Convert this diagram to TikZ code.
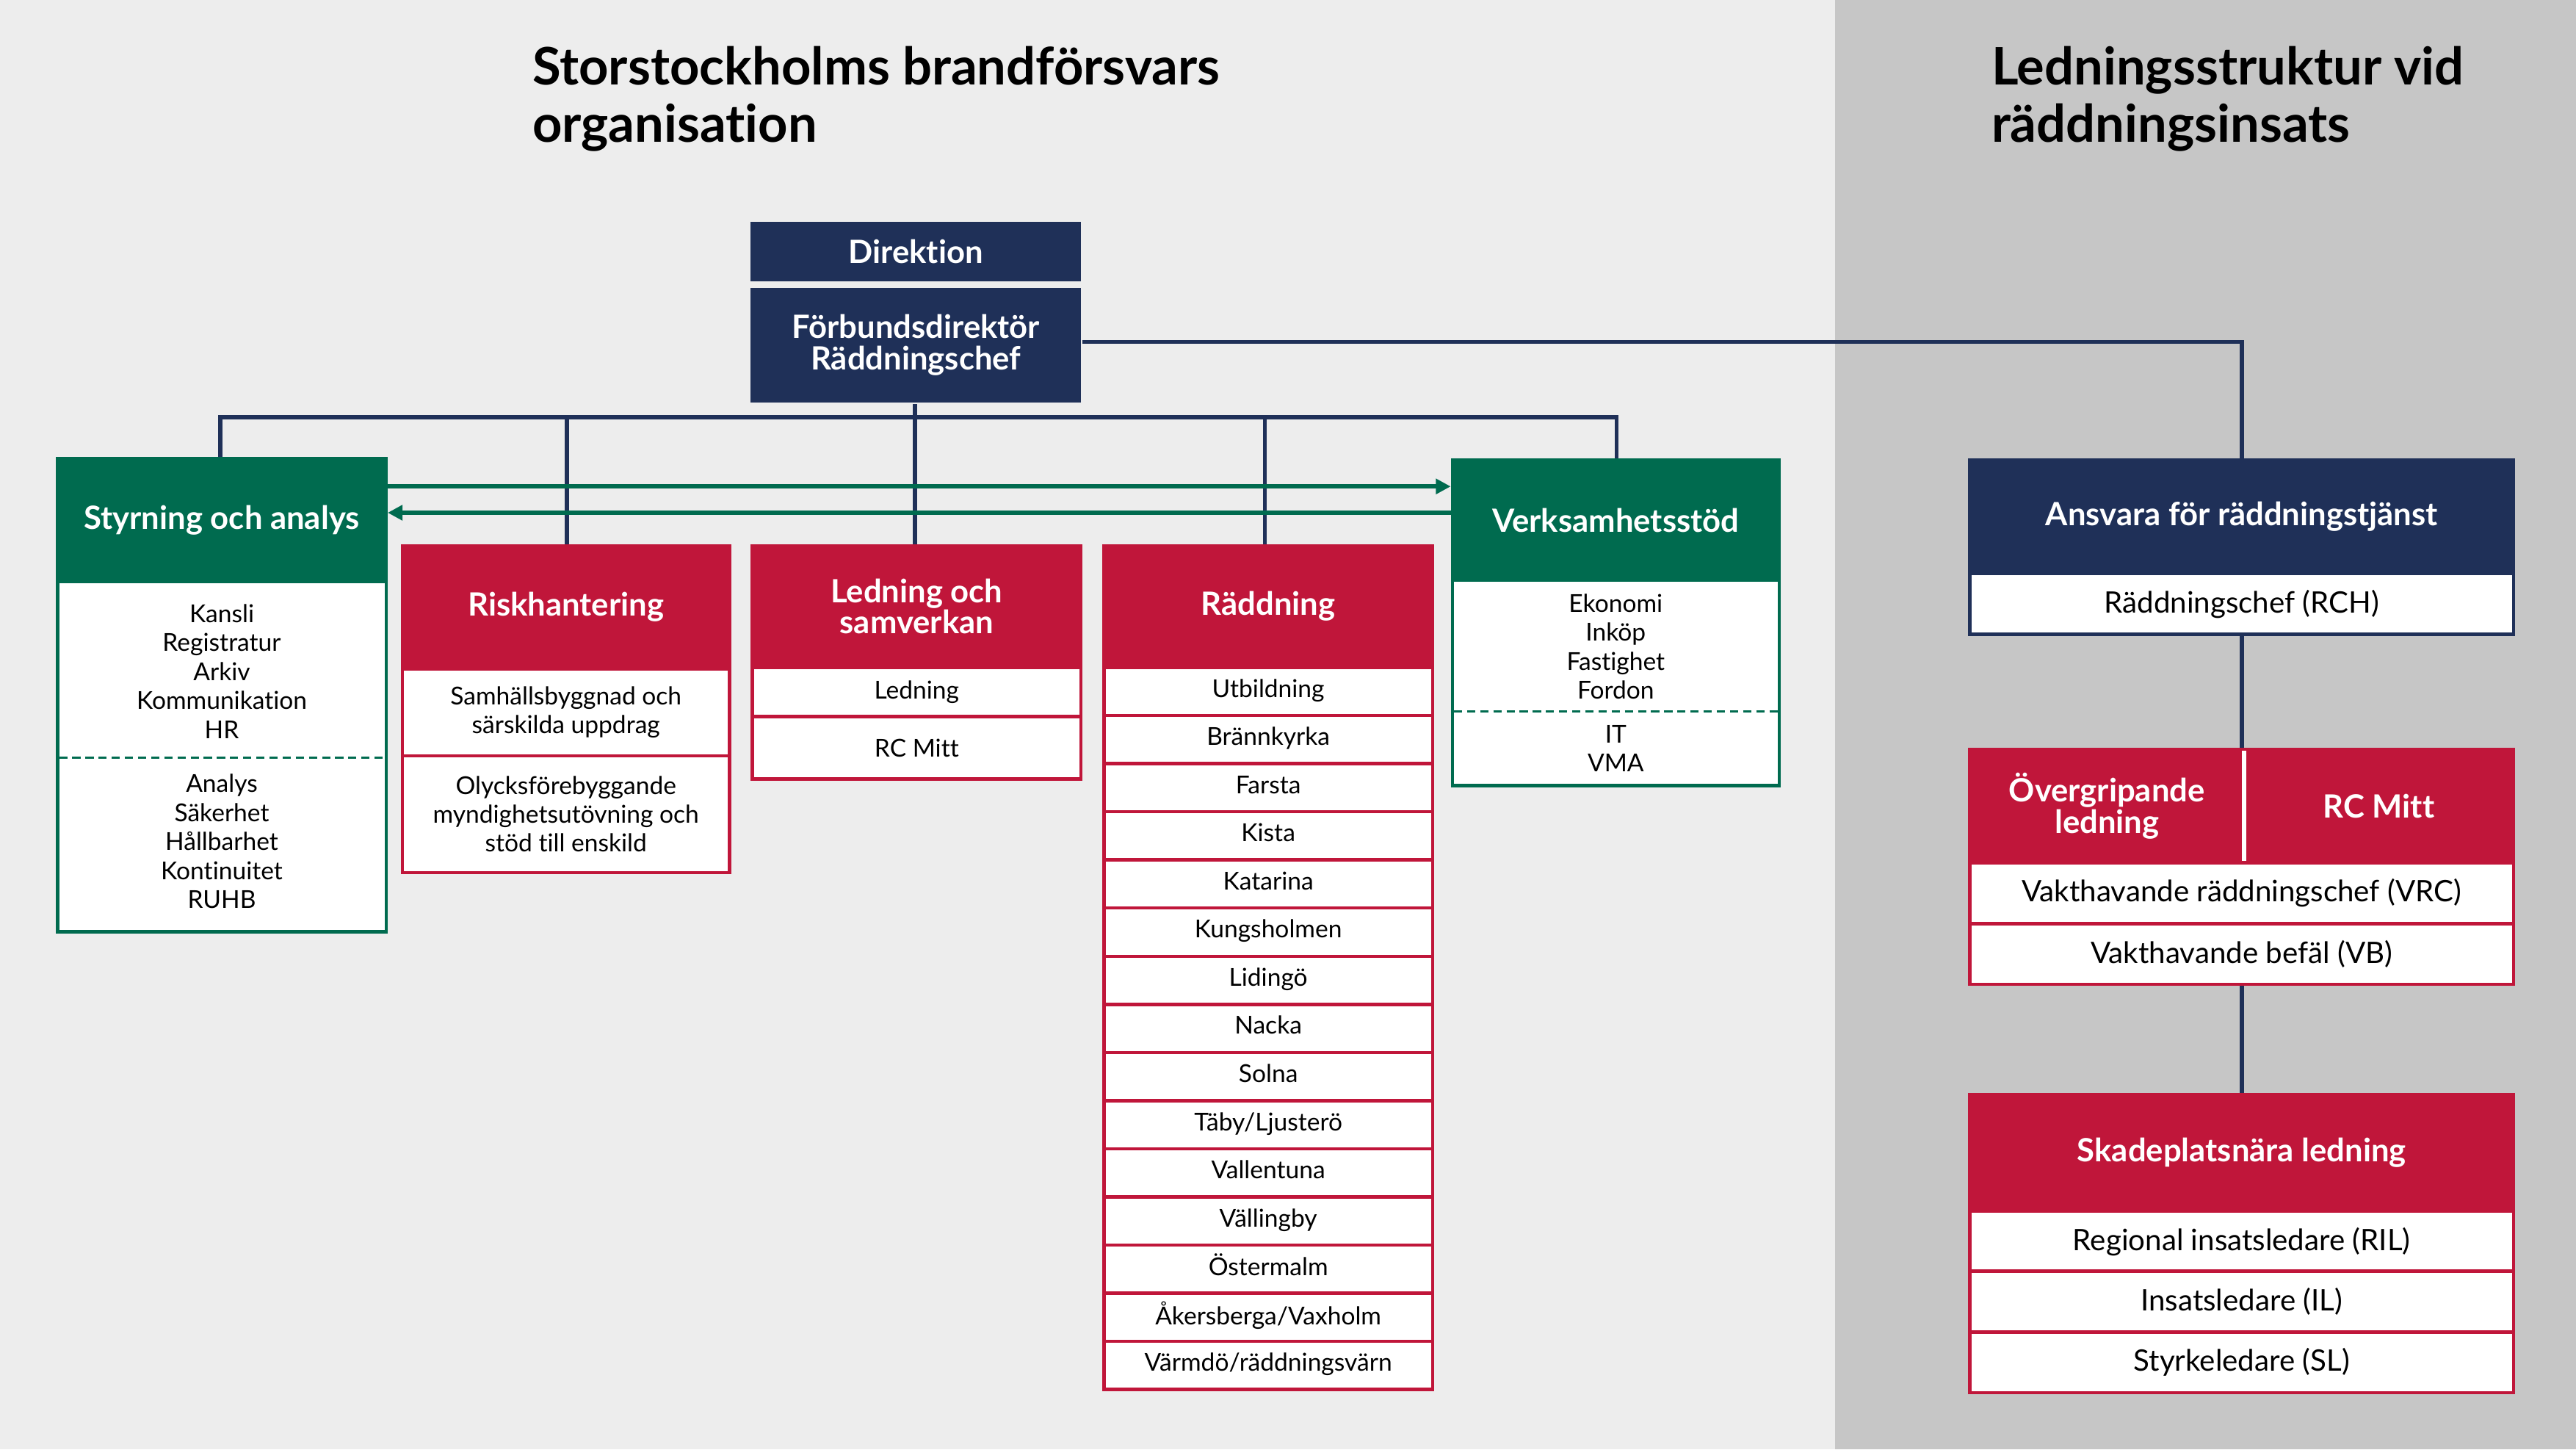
\documentclass[tikz,border=0pt]{standalone}
\usepackage{fontspec}
\setmainfont{Lato}[Ligatures={NoCommon}]
\usetikzlibrary{arrows.meta}
\definecolor{navy}{HTML}{1F3058}
\definecolor{grn}{HTML}{006B4F}
\definecolor{crim}{HTML}{C0163A}
\definecolor{bgl}{HTML}{EDEDED}
\definecolor{bgr}{HTML}{C6C6C6}
\tikzset{x=1pt,y=-1pt,
 hd/.style={rectangle,inner sep=0pt,align=center,text=white,font=\fontsize{19.5}{19}\selectfont\bfseries,line width=2pt},
 cell/.style={rectangle,inner sep=0pt,align=center,fill=white,line width=2pt,font=\fontsize{15}{17.5}\selectfont},
 rcell/.style={cell,draw=crim},
 gcell/.style={cell,draw=grn},
 ncell/.style={cell,draw=navy,font=\fontsize{18}{20}\selectfont},
 rrcell/.style={cell,draw=crim,font=\fontsize{18}{20}\selectfont},
 conn/.style={navy,line width=2.5pt},
 garr/.style={grn,line width=2.5pt,-{Triangle[length=9pt,width=9pt]}},
 ttl/.style={anchor=north west,align=left,inner sep=0pt,font=\fontsize{31.5}{35}\selectfont\bfseries}}
\begin{document}
\begin{tikzpicture}
\fill[bgl] (0,0) rectangle (1117,882);
\fill[bgr] (1117,0) rectangle (1568,882);
\useasboundingbox (0,0) rectangle (1568,882);
\node[ttl] (t1) at (324,28) {Storstockholms brandförsvars\\organisation};
\node[ttl] (t2) at (1212,28) {Ledningsstruktur vid\\räddningsinsats};
% top
\node[hd,fill=navy,minimum width=201,minimum height=36] (dir) at (557.5,153) {Direktion};
\node[hd,fill=navy,minimum width=201,minimum height=70] (fd) at (557.5,210) {Förbundsdirektör\\Räddningschef};
% Styrning
\node[gcell,draw=grn,minimum width=200,minimum height=213] (sab) at (135,460.5) {};
\node[hd,fill=grn,draw=grn,minimum width=200,minimum height=75] (sa) at (135,316.5) {Styrning och analys};
\draw[grn,line width=1.5pt,dash pattern=on 5pt off 3pt] (36,461) -- (234,461);
\node[font=\fontsize{15}{17.6}\selectfont,align=center] (sa1) at (135,408.5) {Kansli\\Registratur\\Arkiv\\Kommunikation\\HR};
\node[font=\fontsize{15}{17.6}\selectfont,align=center] (sa2) at (135,512) {Analys\\Säkerhet\\Hållbarhet\\Kontinuitet\\RUHB};
% Verksamhetsstod
\node[gcell,minimum width=199,minimum height=125] (vsb) at (983.5,415.5) {};
\node[hd,fill=grn,draw=grn,minimum width=199,minimum height=73] (vs) at (983.5,316.5) {Verksamhetsstöd};
\draw[grn,line width=1.5pt,dash pattern=on 5pt off 3pt] (885,433) -- (1082,433);
\node[font=\fontsize{15}{17.6}\selectfont,align=center] (vs1) at (983.5,393.5) {Ekonomi\\Inköp\\Fastighet\\Fordon};
\node[font=\fontsize{15}{17.6}\selectfont,align=center] (vs2) at (983.5,455.5) {IT\\VMA};
% Riskhantering
\node[hd,fill=crim,draw=crim,minimum width=199,minimum height=75] (rh) at (344.5,369.5) {Riskhantering};
\node[rcell,minimum width=199,minimum height=53] (rh1) at (344.5,433.5) {Samhällsbyggnad och\\särskilda uppdrag};
\node[rcell,minimum width=199,minimum height=71] (rh2) at (344.5,495.5) {Olycksförebyggande\\myndighetsutövning och\\stöd till enskild};
% Ledning och samverkan
\node[hd,fill=crim,draw=crim,minimum width=200,minimum height=74,font=\fontsize{19.5}{18}\selectfont\bfseries] (ls) at (558,369) {Ledning och\\samverkan};
\node[rcell,minimum width=200,minimum height=30] (ls1) at (558,421) {Ledning};
\node[rcell,minimum width=200,minimum height=38] (ls2) at (558,455) {RC Mitt};
% Raddning
\node[hd,fill=crim,draw=crim,minimum width=200,minimum height=74] (rd) at (772,369) {Räddning};
\foreach \t [count=\i from 0] in {Utbildning,Brännkyrka,Farsta,Kista,Katarina,Kungsholmen,Lidingö,Nacka,Solna,Täby/Ljusterö,Vallentuna,Vällingby,Östermalm,Åkersberga/Vaxholm,Värmdö/räddningsvärn}
  \node[rcell,minimum width=200,minimum height=29.3] (rd\i) at (772,{420.7+29.3*\i}) {\strut\t};
% connectors
\coordinate (b1) at (134,254); \coordinate (b5) at (984,254);
\coordinate (b2) at (345,254); \coordinate (b3) at (557,254); \coordinate (b4) at (770,254);
\draw[conn] (sa.north -| b1) -- (b1) -- (b5) -- (vs.north -| b5);
\draw[conn] (b2) -- (rh.north -| b2);
\draw[conn] (fd.south -| b3) -- (ls.north -| b3);
\draw[conn] (b4) -- (rd.north -| b4);
\draw[garr] (sa.east |- 0,296) -- (vs.west |- 0,296);
\draw[garr] (vs.west |- 0,312) -- (sa.east |- 0,312);
% right side
\node[hd,fill=navy,draw=navy,minimum width=331,minimum height=69] (an) at (1364.5,314.5) {Ansvara för räddningstjänst};
\node[ncell,minimum width=331,minimum height=37] (an1) at (1364.5,367.5) {Räddningschef (RCH)};
\draw[conn] (fd.east |- 0,208) -| (an.north);
\node[hd,fill=crim,draw=crim,minimum width=167,minimum height=69] (og) at (1282.5,490.5) {Övergripande\\ledning};
\node[hd,fill=crim,draw=crim,minimum width=164,minimum height=69] (rc) at (1448,490.5) {RC Mitt};
\draw[white,line width=2.5pt] (1366,457) -- (1366,524);
\node[rrcell,minimum width=331,minimum height=37] (vrc) at (1364.5,543.5) {Vakthavande räddningschef (VRC)};
\node[rrcell,minimum width=331,minimum height=37] (vb) at (1364.5,580.5) {Vakthavande befäl (VB)};
\node[hd,fill=crim,draw=crim,minimum width=331,minimum height=71] (sk) at (1364.5,701.5) {Skadeplatsnära ledning};
\node[rrcell,minimum width=331,minimum height=37] (ril) at (1364.5,755.5) {Regional insatsledare (RIL)};
\node[rrcell,minimum width=331,minimum height=37] (il) at (1364.5,792) {Insatsledare (IL)};
\node[rrcell,minimum width=331,minimum height=37] (sl) at (1364.5,829) {Styrkeledare (SL)};
\draw[conn] (an1.south) -- (an1.south |- og.north);
\draw[conn] (vb.south) -- (sk.north);
\end{tikzpicture}
\end{document}
